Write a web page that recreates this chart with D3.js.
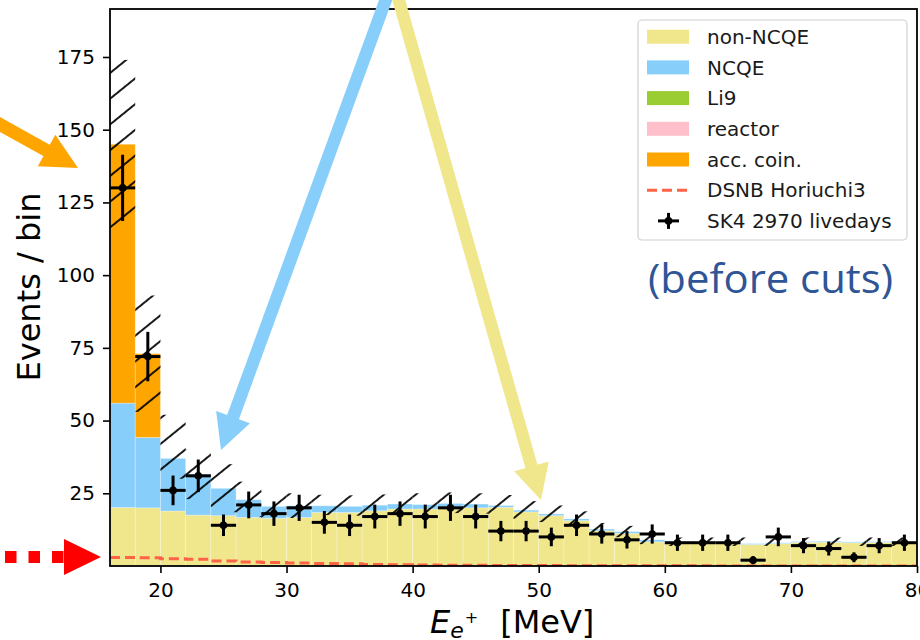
<!DOCTYPE html>
<html lang="en">
<head>
  <meta charset="utf-8">
  <title>SK4 positron spectrum</title>
  <style>
  body { margin: 0; padding: 0; background: #fff; }
  svg text { font-family: "DejaVu Sans", sans-serif; }
  </style>
  <script src="https://d3js.org/d3.v7.min.js"></script>
</head>
<body>
  <div id="chart"></div>
  <script type="text/javascript">
    // bin left edges (2 MeV wide)
    var binLo = [16,18,20,22,24,26,28,30,32,34,36,38,40,42,44,46,48,50,52,54,56,58,60,62,64,66,68,70,72,74,76,78];
    var binWidth = 2;

    // stacked background components (events / bin)
    var nonNCQE = [20.1,20.0,18.9,17.5,17.3,16.7,16.4,16.7,18.4,18.4,19.0,19.6,19.6,20.1,20.0,20.2,18.6,17.3,15.6,12.1,11.2,8.3,8.1,8.1,8.0,7.4,7.7,8.1,8.2,8.0,8.1,8.1];
    var NCQE    = [35.9,24.2,18.1,14.1,9.4,6.1,4.1,4.0,2.3,2.1,1.9,1.7,1.5,1.4,1.3,0.6,0.6,0.6,0.6,0.6,0.6,0.7,0.3,0.3,0.3,0.3,0.3,0.3,0.3,0.3,0.3,0.3];
    var li9     = [0,0,0,0,0,0,0,0,0,0,0,0,0,0,0,0,0,0,0,0,0,0,0,0,0,0,0,0,0,0,0,0];
    var reactor = [0,0,0,0,0,0,0,0,0,0,0,0,0,0,0,0,0,0,0,0,0,0,0,0,0,0,0,0,0,0,0,0];
    var accCoin = [89,28.8,0,0,0,0,0,0,0,0,0,0,0,0,0,0,0,0,0,0,0,0,0,0,0,0,0,0,0,0,0,0];

    // hatched uncertainty band on the total
    var hatchLo = [116,53,30,23,18.5,16.8,16.5,16.5,17.5,17.3,17.6,18,18,18.2,18,17.6,16.2,15.1,13.6,10.7,9.9,7.5,6.9,6.9,6.9,6.9,6.9,6.9,6.9,6.9,6.9,6.9];
    var hatchHi = [174,93,52,40,35,29,25.5,25,24.5,24.3,24.6,25,25,25.3,25,24.4,22.3,20.8,18.8,14.8,13.8,10.6,9.8,9.8,9.8,9.8,9.8,9.8,9.8,9.8,9.8,9.8];

    // DSNB Horiuchi3 expectation
    var dsnb = [2.9,2.8,2.5,2.3,1.7,1.4,1.2,1.0,0.9,0.8,0.5,0.4,0.35,0.3,0.25,0.2,0.18,0.15,0.12,0.1,0.08,0.07,0.06,0.05,0.04,0.04,0.03,0.03,0.02,0.02,0.02,0.02];

    // SK4 data, 2970 livedays
    var obs    = [130,72,26,31,14,21,18,20,15,14,17,18,17,20,17,12,12,10,14,11,9,11,8,8,8,2,10,7,6,3,7,8];
    var obsErr = [11.4,8.5,5.1,5.6,3.7,4.6,4.2,4.5,3.9,3.7,4.1,4.2,4.1,4.5,4.1,3.5,3.5,3.2,3.7,3.3,3.0,3.3,2.8,2.8,2.8,1.4,3.2,2.6,2.4,1.7,2.6,2.8];

    var xTicks = [20,30,40,50,60,70,80];
    var yTicks = [25,50,75,100,125,150,175];

    var stackKeys = ["nonNCQE","NCQE","li9","reactor","accCoin"];
    var stackColors = {nonNCQE:"#f0e68c", NCQE:"#87cefa", li9:"#9acd32", reactor:"#ffc0cb", accCoin:"#ffa500"};
    var legendLabels = ["non-NCQE","NCQE","Li9","reactor","acc. coin.","DSNB Horiuchi3","SK4 2970 livedays"];

    var W = 920, H = 640;
    var pL = 110, pR = 917, pT = 9, pB = 566;

    var svg = d3.select("#chart").append("svg")
      .attr("width", W).attr("height", H);
    svg.append("rect").attr("width", W).attr("height", H).attr("fill", "#fff");

    var x = d3.scaleLinear().domain([16, 80]).range([pL, pR]);
    var y = d3.scaleLinear().domain([0, 191.5]).range([pB, pT]);

    var defs = svg.append("defs");
    defs.append("clipPath").attr("id", "plotClip")
      .append("rect").attr("x", pL).attr("y", pT)
      .attr("width", pR - pL).attr("height", pB - pT);
    var pat = defs.append("pattern").attr("id", "hatch")
      .attr("patternUnits", "userSpaceOnUse")
      .attr("width", 20).attr("height", 20)
      .attr("patternTransform", "rotate(-39)");
    pat.append("line").attr("x1", -2).attr("x2", 22).attr("y1", 6).attr("y2", 6)
      .attr("stroke", "#000").attr("stroke-width", 1.8);

    var rows = binLo.map(function(lo, i) {
      return {lo: lo, nonNCQE: nonNCQE[i], NCQE: NCQE[i], li9: li9[i], reactor: reactor[i], accCoin: accCoin[i]};
    });
    var series = d3.stack().keys(stackKeys)(rows);

    var plot = svg.append("g").attr("clip-path", "url(#plotClip)");

    plot.selectAll("g.layer").data(series).join("g")
      .attr("class", "layer")
      .attr("fill", function(d) { return stackColors[d.key]; })
      .selectAll("rect").data(function(d) { return d; }).join("rect")
      .attr("x", function(d) { return x(d.data.lo); })
      .attr("width", function(d) { return x(d.data.lo + binWidth) - x(d.data.lo); })
      .attr("y", function(d) { return y(d[1]); })
      .attr("height", function(d) { return y(d[0]) - y(d[1]); })
      .attr("stroke", "rgba(255,255,255,0.35)")
      .attr("stroke-width", 0.8);

    // hatched band
    plot.selectAll("rect.hatch").data(binLo).join("rect")
      .attr("class", "hatch")
      .attr("x", function(d) { return x(d); })
      .attr("width", function(d) { return x(d + binWidth) - x(d); })
      .attr("y", function(d, i) { return y(hatchHi[i]); })
      .attr("height", function(d, i) { return y(hatchLo[i]) - y(hatchHi[i]); })
      .attr("fill", "url(#hatch)");

    // DSNB step line
    var stepPts = binLo.map(function(lo, i) { return [lo, dsnb[i]]; });
    stepPts.push([80, dsnb[dsnb.length - 1]]);
    plot.append("path")
      .attr("d", d3.line().curve(d3.curveStepAfter)
        .x(function(d) { return x(d[0]); })
        .y(function(d) { return y(d[1]); })(stepPts))
      .attr("fill", "none")
      .attr("stroke", "#ff6347")
      .attr("stroke-width", 3)
      .attr("stroke-dasharray", "10,5");

    // data points
    var pts = plot.selectAll("g.pt").data(binLo).join("g").attr("class", "pt");
    pts.append("line")
      .attr("x1", function(d) { return x(d); })
      .attr("x2", function(d) { return x(d + binWidth); })
      .attr("y1", function(d, i) { return y(obs[i]); })
      .attr("y2", function(d, i) { return y(obs[i]); })
      .attr("stroke", "#000").attr("stroke-width", 3);
    pts.append("line")
      .attr("x1", function(d) { return x(d + binWidth / 2); })
      .attr("x2", function(d) { return x(d + binWidth / 2); })
      .attr("y1", function(d, i) { return y(obs[i] - obsErr[i]); })
      .attr("y2", function(d, i) { return y(obs[i] + obsErr[i]); })
      .attr("stroke", "#000").attr("stroke-width", 3);
    pts.append("circle")
      .attr("cx", function(d) { return x(d + binWidth / 2); })
      .attr("cy", function(d, i) { return y(obs[i]); })
      .attr("r", 3.8).attr("fill", "#000");

    // axes
    var yAxis = svg.append("g").attr("transform", "translate(" + pL + ",0)")
      .call(d3.axisLeft(y).tickValues(yTicks).tickSize(7).tickPadding(8));
    var xAxis = svg.append("g").attr("transform", "translate(0," + pB + ")")
      .call(d3.axisBottom(x).tickValues(xTicks).tickSize(7).tickPadding(10));
    [xAxis, yAxis].forEach(function(a) {
      a.select(".domain").remove();
      a.selectAll(".tick line").attr("stroke", "#000").attr("stroke-width", 1.6);
      a.selectAll("text").attr("font-size", 20).attr("fill", "#000")
        .attr("font-family", "DejaVu Sans");
    });
    svg.append("rect")
      .attr("x", pL).attr("y", pT)
      .attr("width", pR - pL).attr("height", pB - pT)
      .attr("fill", "none").attr("stroke", "#000").attr("stroke-width", 1.8);

    // axis labels
    svg.append("text")
      .attr("transform", "translate(40,287) rotate(-90)")
      .attr("text-anchor", "middle")
      .attr("font-size", 32)
      .text("Events / bin");

    var xl = svg.append("text").attr("x", 430).attr("y", 633).attr("font-size", 32);
    xl.append("tspan").attr("font-style", "italic").text("E");
    xl.append("tspan").attr("font-style", "italic").attr("font-size", 22).attr("dy", 5).text("e");
    xl.append("tspan").attr("font-size", 16).attr("dy", -15).attr("dx", 1).text("+");
    xl.append("tspan").attr("font-size", 32).attr("dy", 10).attr("dx", 22).text("[MeV]");

    // legend
    var lg = svg.append("g");
    lg.append("rect")
      .attr("x", 638).attr("y", 20).attr("width", 269).attr("height", 220)
      .attr("rx", 4).attr("fill", "rgba(255,255,255,0.85)")
      .attr("stroke", "#d0d0d0").attr("stroke-width", 1.2);
    var rowY = function(i) { return 36.7 + i * 30.7; };
    stackKeys.forEach(function(k, i) {
      lg.append("rect").attr("x", 647).attr("y", rowY(i) - 7)
        .attr("width", 42).attr("height", 14).attr("fill", stackColors[k]);
    });
    lg.append("line").attr("x1", 647).attr("x2", 689)
      .attr("y1", rowY(5)).attr("y2", rowY(5))
      .attr("stroke", "#ff6347").attr("stroke-width", 3).attr("stroke-dasharray", "10,5");
    lg.append("line").attr("x1", 658).attr("x2", 679).attr("y1", rowY(6)).attr("y2", rowY(6))
      .attr("stroke", "#000").attr("stroke-width", 3);
    lg.append("line").attr("x1", 668.5).attr("x2", 668.5).attr("y1", rowY(6) - 8).attr("y2", rowY(6) + 8)
      .attr("stroke", "#000").attr("stroke-width", 3);
    lg.append("circle").attr("cx", 668.5).attr("cy", rowY(6)).attr("r", 3.8).attr("fill", "#000");
    legendLabels.forEach(function(t, i) {
      lg.append("text").attr("x", 707).attr("y", rowY(i)).attr("dy", "0.36em")
        .attr("font-size", 20).attr("fill", "#1a1a1a").text(t);
    });

    svg.append("text")
      .attr("x", 648).attr("y", 293)
      .attr("font-size", 40).attr("fill", "#2f5597")
      .attr("textLength", 245).attr("lengthAdjust", "spacingAndGlyphs")
      .style("font-family", "'Open Sans', sans-serif")
      .text("(before cuts)");

    // annotation arrows
    function arrow(x1, y1, x2, y2, color, shaftW, headL, headW) {
      var dx = x2 - x1, dy = y2 - y1, len = Math.sqrt(dx * dx + dy * dy);
      var ux = dx / len, uy = dy / len;
      var bx = x2 - ux * headL, by = y2 - uy * headL;
      svg.append("line").attr("x1", x1).attr("y1", y1)
        .attr("x2", bx + ux * 2).attr("y2", by + uy * 2)
        .attr("stroke", color).attr("stroke-width", shaftW);
      var px = -uy * headW / 2, py = ux * headW / 2;
      svg.append("polygon")
        .attr("points", [[x2, y2], [bx + px, by + py], [bx - px, by - py]].map(function(p) { return p.join(","); }).join(" "))
        .attr("fill", color);
    }
    arrow(-8, 120, 78, 168, "#ffa500", 13, 36, 36);
    arrow(393, -20, 221, 450, "#87cefa", 12.5, 35, 36);
    arrow(393, -20, 541, 500, "#f0e68c", 12.5, 35, 36);

    // red dotted arrow at the bottom
    svg.append("line").attr("x1", 5).attr("x2", 66).attr("y1", 557).attr("y2", 557)
      .attr("stroke", "#ff0000").attr("stroke-width", 12).attr("stroke-dasharray", "11.5,12");
    svg.append("polygon").attr("points", "64,539 64,575 101,557").attr("fill", "#ff0000");
  </script>
</body>
</html>
